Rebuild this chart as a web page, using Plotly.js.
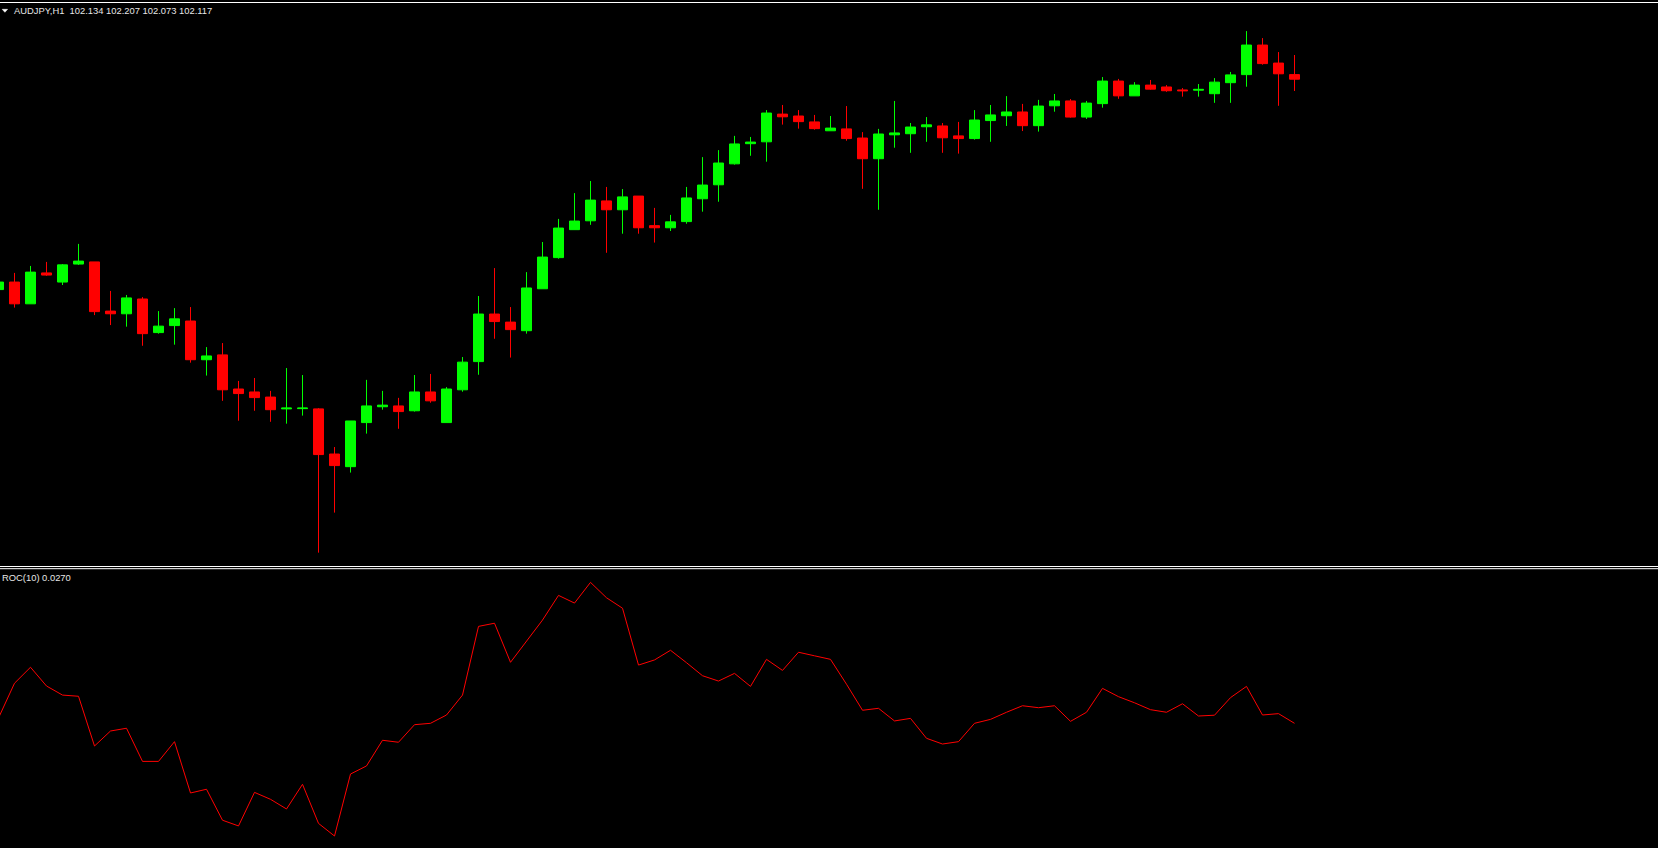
<!DOCTYPE html>
<html>
<head>
<meta charset="utf-8">
<script src="https://cdn.plot.ly/plotly-3.0.1.min.js"></script>
<style>
html,body{margin:0;padding:0;background:#000;}
#chart{width:1658px;height:848px;}
</style>
</head>
<body>
<div id="chart"></div>
<script>
var symbol = "AUDJPY,H1";
var rocLabel = "ROC(10)";

var openP = [
101.334, 101.362, 101.281, 101.396, 101.362, 101.429, 101.437, 101.254, 101.244, 101.299,
101.174, 101.200, 101.217, 101.073, 101.091, 100.964, 100.953, 100.934, 100.890, 100.891,
100.890, 100.722, 100.675, 100.839, 100.898, 100.901, 100.883, 100.953, 100.839, 100.961,
101.066, 101.243, 101.213, 101.181, 101.337, 101.453, 101.557, 101.590, 101.664, 101.631,
101.682, 101.572, 101.564, 101.587, 101.672, 101.724, 101.802, 101.877, 101.884, 101.987,
101.980, 101.958, 101.925, 101.932, 101.898, 101.821, 101.910, 101.914, 101.940, 101.943,
101.906, 101.896, 101.963, 101.981, 101.995, 101.944, 102.018, 102.036, 101.976, 102.026,
102.110, 102.055, 102.095, 102.088, 102.077, 102.076, 102.063, 102.104, 102.134, 102.244,
102.177, 102.134];

var highP = [
101.363, 101.396, 101.422, 101.437, 101.429, 101.504, 101.437, 101.329, 101.314, 101.306,
101.254, 101.265, 101.269, 101.120, 101.135, 100.994, 101.005, 100.957, 101.042, 101.016,
100.893, 100.748, 100.845, 100.998, 100.957, 100.931, 101.016, 101.020, 100.971, 101.083,
101.310, 101.414, 101.269, 101.399, 101.511, 101.597, 101.693, 101.738, 101.716, 101.708,
101.682, 101.638, 101.612, 101.716, 101.827, 101.853, 101.906, 101.902, 102.002, 102.021,
102.002, 101.984, 101.980, 102.017, 101.920, 101.932, 102.036, 101.954, 101.976, 101.954,
101.958, 102.002, 102.021, 102.054, 102.025, 102.040, 102.062, 102.043, 102.036, 102.125,
102.118, 102.106, 102.114, 102.095, 102.084, 102.099, 102.121, 102.144, 102.296, 102.270,
102.218, 102.207];

var lowP = [
101.333, 101.267, 101.281, 101.385, 101.351, 101.426, 101.239, 101.202, 101.196, 101.125,
101.170, 101.129, 101.062, 101.014, 100.920, 100.846, 100.883, 100.842, 100.835, 100.865,
100.355, 100.504, 100.653, 100.798, 100.887, 100.816, 100.880, 100.913, 100.839, 100.954,
101.017, 101.151, 101.081, 101.170, 101.337, 101.449, 101.557, 101.575, 101.471, 101.542,
101.542, 101.509, 101.552, 101.579, 101.624, 101.661, 101.799, 101.832, 101.810, 101.948,
101.933, 101.929, 101.925, 101.888, 101.709, 101.631, 101.862, 101.843, 101.884, 101.843,
101.840, 101.892, 101.884, 101.943, 101.924, 101.922, 101.996, 101.974, 101.969, 102.011,
102.044, 102.055, 102.078, 102.070, 102.052, 102.052, 102.029, 102.029, 102.089, 102.171,
102.018, 102.073];

var closeP = [
101.362, 101.281, 101.399, 101.388, 101.426, 101.440, 101.252, 101.244, 101.303, 101.170,
101.198, 101.225, 101.073, 101.087, 100.961, 100.947, 100.932, 100.887, 100.893, 100.893,
100.720, 100.679, 100.845, 100.901, 100.904, 100.880, 100.953, 100.920, 100.964, 101.064,
101.243, 101.215, 101.185, 101.340, 101.455, 101.563, 101.589, 101.667, 101.631, 101.679,
101.564, 101.564, 101.586, 101.675, 101.723, 101.805, 101.876, 101.883, 101.991, 101.977,
101.959, 101.933, 101.935, 101.896, 101.821, 101.913, 101.917, 101.939, 101.947, 101.899,
101.896, 101.965, 101.984, 101.995, 101.944, 102.017, 102.036, 101.976, 102.028, 102.110,
102.055, 102.095, 102.080, 102.074, 102.074, 102.079, 102.106, 102.133, 102.244, 102.175,
102.137, 102.117];

var roc = [
0.054, 0.230, 0.311, 0.216, 0.170, 0.164, -0.088, -0.012, 0.002, -0.166,
-0.166, -0.066, -0.326, -0.307, -0.464, -0.493, -0.323, -0.358, -0.407, -0.282,
-0.480, -0.544, -0.230, -0.189, -0.059, -0.069, 0.020, 0.027, 0.069, 0.170,
0.518, 0.534, 0.336, 0.444, 0.550, 0.675, 0.636, 0.741, 0.663, 0.610,
0.322, 0.348, 0.397, 0.334, 0.268, 0.241, 0.280, 0.214, 0.351, 0.295,
0.387, 0.369, 0.351, 0.225, 0.093, 0.103, 0.039, 0.052, -0.049, -0.078,
-0.066, 0.027, 0.047, 0.083, 0.116, 0.106, 0.116, 0.037, 0.083, 0.204,
0.162, 0.131, 0.096, 0.083, 0.126, 0.064, 0.068, 0.157, 0.214, 0.069,
0.076, 0.0270];

var bars = openP.map(function(_, i){ return i; });
var last = bars.length - 1;

var W = 1658, H = 848;
function px(x){ return x / W; }
function py(y){ return 1 - y / H; }

var candle = {
  type: 'candlestick',
  x: bars, open: openP, high: highP, low: lowP, close: closeP,
  xaxis: 'x', yaxis: 'y',
  increasing: {line: {color: '#00ff00', width: 1}, fillcolor: '#00ff00'},
  decreasing: {line: {color: '#ff0000', width: 1}, fillcolor: '#ff0000'},
  whiskerwidth: 0,
  hoverinfo: 'skip',
  showlegend: false
};

var rocTrace = {
  type: 'scatter', mode: 'lines',
  x: bars, y: roc,
  xaxis: 'x', yaxis: 'y2',
  line: {color: '#ff0000', width: 1},
  hoverinfo: 'skip',
  showlegend: false
};

var hidden = {showgrid: false, zeroline: false, showticklabels: false, ticks: '', showline: false, fixedrange: true};

var layout = {
  width: W, height: H,
  margin: {l: 0, r: 0, t: 0, b: 0, pad: 0},
  paper_bgcolor: '#000000',
  plot_bgcolor: '#000000',
  showlegend: false,
  hovermode: false,
  boxgap: 0.375,
  boxgroupgap: 0,
  xaxis: Object.assign({range: [0.09375, 103.71875], rangeslider: {visible: false}}, hidden),
  yaxis: Object.assign({domain: [py(566), 1], range: [100.3053, 102.4117]}, hidden),
  yaxis2: Object.assign({domain: [0, py(569)], range: [-0.6047, 0.8087], anchor: 'x'}, hidden),
  shapes: [
    {type: 'line', xref: 'paper', yref: 'paper', x0: 0, x1: 1, y0: py(2.5), y1: py(2.5), line: {color: '#ffffff', width: 1}},
    {type: 'line', xref: 'paper', yref: 'paper', x0: 0, x1: 1, y0: py(566.5), y1: py(566.5), line: {color: '#ffffff', width: 1}},
    {type: 'line', xref: 'paper', yref: 'paper', x0: 0, x1: 1, y0: py(568.7), y1: py(568.7), line: {color: '#ffffff', width: 1}},
    {type: 'path', xref: 'paper', yref: 'paper',
     path: 'M ' + px(2.2) + ' ' + py(9.3) + ' L ' + px(7.6) + ' ' + py(9.3) + ' L ' + px(4.9) + ' ' + py(12.3) + ' Z',
     fillcolor: '#ffffff', line: {color: '#ffffff', width: 0.5}}
  ],
  annotations: [
    {xref: 'paper', yref: 'paper', x: px(13.5), y: py(11), xanchor: 'left', yanchor: 'middle',
     showarrow: false, borderpad: 0, borderwidth: 0,
     text: symbol + '\u00a0\u00a0' + openP[last].toFixed(3) + ' ' + highP[last].toFixed(3) + ' ' + lowP[last].toFixed(3) + ' ' + closeP[last].toFixed(3),
     font: {family: 'Liberation Sans, Arial, sans-serif', size: 9.4, color: '#e6e6e6'}},
    {xref: 'paper', yref: 'paper', x: px(2), y: py(577), xanchor: 'left', yanchor: 'middle',
     showarrow: false, borderpad: 0, borderwidth: 0,
     text: rocLabel + ' ' + roc[last].toFixed(4),
     font: {family: 'Liberation Sans, Arial, sans-serif', size: 9.4, color: '#e6e6e6'}}
  ]
};

Plotly.newPlot('chart', [candle, rocTrace], layout, {staticPlot: true, displayModeBar: false});
</script>
</body>
</html>
